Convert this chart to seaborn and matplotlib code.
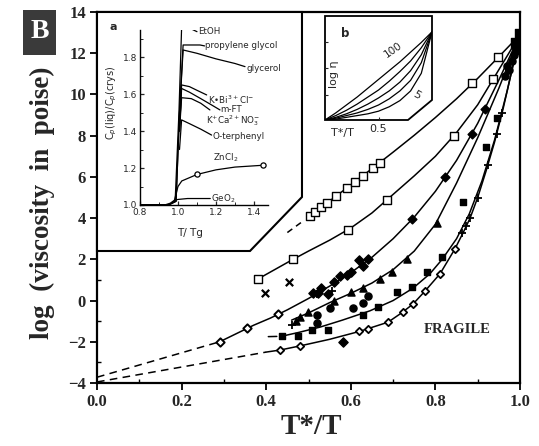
import matplotlib
matplotlib.use("Agg")
import matplotlib.pyplot as plt
import seaborn as sns
import pandas as pd
from matplotlib.patches import Polygon, Rectangle
from matplotlib.ticker import MultipleLocator

sns.set_theme(style="white")
plt.rcParams['font.family'] = ['Liberation Serif', 'DejaVu Serif']

# ---------------- main panel data ----------------
A_x = [0.50, 0.55, 0.60, 0.65, 0.70, 0.75, 0.80, 0.85, 0.90, 0.95, 1.00]
A_y = [4.05, 4.83, 5.61, 6.40, 7.20, 8.02, 8.88, 9.79, 10.78, 11.83, 12.9]
A_dash_x = [0.45, 0.49]
A_dash_y = [3.3, 3.9]
A_sq_x = [0.503, 0.515, 0.53, 0.543, 0.565, 0.59, 0.61, 0.629, 0.652, 0.669, 0.887, 0.948]
A_sq_y = [4.1, 4.28, 4.52, 4.72, 5.06, 5.45, 5.77, 6.06, 6.42, 6.69, 10.55, 11.8]

B_x = [0.38, 0.42, 0.46, 0.50, 0.55, 0.60, 0.65, 0.70, 0.75, 0.80, 0.85, 0.90, 0.95, 1.00]
B_y = [1.04, 1.5, 1.96, 2.4, 2.93, 3.52, 4.25, 5.15, 6.05, 7.0, 8.15, 9.5, 11.2, 12.9]
B_sq_x = [0.381, 0.463, 0.593, 0.686, 0.844, 0.936]
B_sq_y = [1.05, 2.0, 3.44, 4.9, 8.0, 10.75]
X_x = [0.397, 0.454]
X_y = [0.36, 0.89]

D_dash_x = [0.0, 0.29]
D_dash_y = [-3.72, -2.0]
D_x = [0.29, 0.33, 0.37, 0.41, 0.45, 0.50, 0.55, 0.60, 0.65, 0.70, 0.75, 0.80, 0.85, 0.90, 0.95, 1.00]
D_y = [-2.0, -1.6, -1.2, -0.85, -0.45, 0.1, 0.7, 1.35, 2.1, 3.0, 4.05, 5.3, 6.8, 8.6, 10.7, 12.9]
D_open_x = [0.29, 0.355, 0.428]
D_open_y = [-2.0, -1.35, -0.67]
D_fill_x = [0.745, 0.823, 0.887, 0.917]
D_fill_y = [3.95, 6.0, 8.1, 9.3]

T_x = [0.46, 0.50, 0.55, 0.60, 0.65, 0.70, 0.75, 0.80, 0.85, 0.90, 0.95, 1.00]
T_y = [-0.95, -0.6, -0.1, 0.35, 0.85, 1.5, 2.4, 3.7, 5.7, 7.9, 10.3, 12.9]
tri_x = [0.47, 0.48, 0.499, 0.56, 0.60, 0.63, 0.669, 0.697, 0.733, 0.804]
tri_y = [-1.0, -0.8, -0.55, 0.0, 0.4, 0.6, 1.05, 1.4, 2.0, 3.76]

E_dash_x = [0.405, 0.425]
E_dash_y = [-1.75, -1.74]
E_x = [0.437, 0.476, 0.527, 0.58, 0.645, 0.70, 0.747, 0.787, 0.816, 0.85, 0.88, 0.91, 0.94, 0.97, 1.00]
E_y = [-1.73, -1.55, -1.29, -0.95, -0.5, 0.0, 0.6, 1.3, 2.0, 3.0, 4.2, 5.8, 7.8, 10.2, 12.9]
sqf_x = [0.437, 0.476, 0.508, 0.546, 0.63, 0.665, 0.71, 0.745, 0.78, 0.816, 0.865, 0.92, 0.945]
sqf_y = [-1.73, -1.73, -1.44, -1.44, -0.7, -0.32, 0.4, 0.65, 1.4, 2.1, 4.8, 7.45, 8.85]

F_dash_x = [0.0, 0.40]
F_dash_y = [-3.95, -2.5]
F_x = [0.40, 0.433, 0.48, 0.55, 0.62, 0.688, 0.72, 0.747, 0.775, 0.811, 0.846, 0.865,
       0.882, 0.90, 0.92, 0.94, 0.96, 0.98, 1.00]
F_y = [-2.5, -2.4, -2.2, -1.88, -1.5, -1.05, -0.6, -0.17, 0.45, 1.3, 2.5, 3.27,
       4.0, 5.0, 6.3, 7.7, 9.3, 11.1, 12.9]
F_mk_x = [0.433, 0.48, 0.62, 0.641, 0.688, 0.723, 0.747, 0.775, 0.811, 0.846]
F_mk_y = [-2.4, -2.2, -1.5, -1.37, -1.05, -0.56, -0.17, 0.45, 1.3, 2.5]

circ_x = [0.52, 0.52, 0.55, 0.605, 0.629, 0.64, 0.965, 0.975, 0.98, 0.97, 0.985, 0.99]
circ_y = [-0.7, -1.1, -0.37, -0.37, -0.13, 0.2, 10.9, 11.2, 11.6, 11.4, 11.9, 12.2]
dia_x = [0.51, 0.522, 0.53, 0.545, 0.56, 0.575, 0.59, 0.60, 0.62, 0.63, 0.64, 0.582]
dia_y = [0.36, 0.35, 0.6, 0.3, 0.9, 1.2, 1.23, 1.4, 1.96, 1.7, 2.0, -2.0]
plus_x = [0.863, 0.872, 0.882, 0.90, 0.924, 0.945, 0.957, 0.46, 0.52, 0.555]
plus_y = [3.27, 3.6, 4.0, 5.0, 6.6, 8.1, 9.1, -1.2, 0.3, 0.45]
top_x = [1.0, 0.99, 0.995]
top_y = [12.95, 12.5, 12.2]

x_ticks = [0.0, 0.2, 0.4, 0.6, 0.8, 1.0]
x_tick_labels = ["0.0", "0.2", "0.4", "0.6", "0.8", "1.0"]
y_ticks = [-4, -2, 0, 2, 4, 6, 8, 10, 12, 14]

# ---------------- inset a data ----------------
a_EtOH_x = [0.80, 0.95, 0.985, 1.005, 1.019, 1.063, 1.10]
a_EtOH_y = [1.0, 1.0, 1.02, 1.5, 1.955, 1.955, 1.937]
a_pg_x = [0.80, 0.95, 0.99, 1.008, 1.027, 1.116, 1.14]
a_pg_y = [1.0, 1.0, 1.02, 1.5, 1.865, 1.865, 1.86]
a_gly_x = [0.80, 0.95, 0.99, 1.008, 1.027, 1.10, 1.20, 1.30, 1.353]
a_gly_y = [1.0, 1.0, 1.02, 1.5, 1.838, 1.82, 1.79, 1.765, 1.748]
a_KBi_x = [1.008, 1.019, 1.06, 1.10, 1.151]
a_KBi_y = [1.4, 1.649, 1.64, 1.62, 1.595]
a_mFT_x = [1.008, 1.019, 1.06, 1.12, 1.17, 1.221]
a_mFT_y = [1.4, 1.63, 1.61, 1.575, 1.545, 1.514]
a_KCa_x = [1.008, 1.019, 1.07, 1.12, 1.168]
a_KCa_y = [1.4, 1.58, 1.575, 1.55, 1.514]
a_OT_x = [1.008, 1.019, 1.06, 1.12, 1.177]
a_OT_y = [1.3, 1.46, 1.44, 1.41, 1.378]
a_Zn_x = [0.80, 0.95, 0.98, 1.0, 1.02, 1.10, 1.20, 1.30, 1.45]
a_Zn_y = [1.0, 1.0, 1.02, 1.10, 1.13, 1.165, 1.19, 1.205, 1.215]
a_Zn_mk_x = [1.10, 1.45]
a_Zn_mk_y = [1.165, 1.215]
a_Ge_x = [0.80, 0.93, 0.96, 0.98, 1.0, 1.05, 1.17]
a_Ge_y = [1.0, 1.0, 1.01, 1.025, 1.03, 1.035, 1.035]

# ---------------- inset b data ----------------
b_x = [0.0, 0.1, 0.2, 0.3, 0.4, 0.5, 0.6, 0.7, 0.8, 0.9, 1.0]
b_100 = [0.0, 0.08, 0.17, 0.26, 0.36, 0.46, 0.56, 0.66, 0.77, 0.88, 1.0]
b_50 = [0.0, 0.05, 0.11, 0.18, 0.26, 0.34, 0.44, 0.55, 0.67, 0.82, 1.0]
b_20 = [0.0, 0.03, 0.07, 0.12, 0.18, 0.25, 0.33, 0.43, 0.56, 0.74, 1.0]
b_10 = [0.0, 0.02, 0.05, 0.08, 0.12, 0.17, 0.24, 0.33, 0.45, 0.65, 1.0]
b_5 = [0.0, 0.01, 0.03, 0.05, 0.07, 0.10, 0.15, 0.22, 0.33, 0.53, 1.0]

W, H = 539, 446
fig = plt.figure(figsize=(W / 100, H / 100), dpi=100)
fig.patch.set_facecolor("white")


def fx(px):
    return px / W


def fy(py):
    return 1 - py / H


ax = fig.add_axes([fx(97), fy(383), (520 - 97) / W, (383 - 12) / H])
ax.set_facecolor("white")

LW = 1.1
def line(xs, ys, a=ax, ls="-", lw=LW):
    sns.lineplot(x=xs, y=ys, ax=a, color="black", lw=lw, sort=False,
                 estimator=None, linestyle=ls, legend=False)

def pts(xs, ys, marker, fc, s, a=ax, lw=1.0, z=3):
    sns.scatterplot(x=xs, y=ys, ax=a, marker=marker, s=s, facecolor=fc,
                    edgecolor="black", linewidth=lw, legend=False, zorder=z)

line(A_x, A_y); line(A_dash_x, A_dash_y, ls=(0, (4, 3)))
line(B_x, B_y)
line(D_x, D_y); line(D_dash_x, D_dash_y, ls=(0, (5, 3.5)))
line(T_x, T_y)
line(E_x, E_y); line(E_dash_x, E_dash_y)
line(F_x, F_y); line(F_dash_x, F_dash_y, ls=(0, (5, 3.5)))

pts(A_sq_x, A_sq_y, "s", "white", 26)
pts(B_sq_x, B_sq_y, "s", "white", 30)
sns.scatterplot(x=X_x, y=X_y, ax=ax, marker="x", s=28, color="black", linewidth=1.6, legend=False)
pts(D_open_x, D_open_y, "D", "white", 18, lw=1.4)
pts(D_fill_x, D_fill_y, "D", "black", 20)
pts(tri_x, tri_y, "^", "black", 26)
pts(sqf_x, sqf_y, "s", "black", 24)
pts(F_mk_x, F_mk_y, "D", "white", 14, lw=1.3)
pts(circ_x, circ_y, "o", "black", 26)
pts(dia_x, dia_y, "D", "black", 22)
sns.scatterplot(x=plus_x, y=plus_y, ax=ax, marker="+", s=30, color="black", linewidth=1.3, legend=False)
pts(top_x, top_y, "s", "black", 55)

ax.set_xlim(0, 1.0)
ax.set_ylim(-4, 14)
ax.set_xticks(x_ticks)
ax.set_xticklabels(x_tick_labels)
ax.set_yticks(y_ticks)
ax.xaxis.set_minor_locator(MultipleLocator(0.1))
ax.yaxis.set_minor_locator(MultipleLocator(1))
ax.tick_params(which="major", direction="out", length=5, width=1.3, color="black",
               labelsize=12, pad=3, bottom=True, left=True)
ax.tick_params(which="minor", direction="in", length=3, width=1.0, color="black",
               bottom=True, left=True)
for lab in ax.get_xticklabels() + ax.get_yticklabels():
    lab.set_fontweight("bold")
for sp in ax.spines.values():
    sp.set_color("black")
    sp.set_linewidth(1.6)
ax.set_xlabel("")
ax.set_ylabel("")
ax.text(0.851, -1.39, "FRAGILE", fontsize=10.5, fontweight="bold", ha="center", va="center")

# inset a frame (white region)
poly = Polygon([(0, 1), (0.4846, 1), (0.4846, 0.5013), (0.3617, 0.3558), (0, 0.3558)],
               closed=True, transform=ax.transAxes, facecolor="white",
               edgecolor="black", lw=1.5, zorder=6, clip_on=False)
ax.add_patch(poly)

# inset b frame
polyb = Polygon([(fx(325), fy(16)), (fx(432), fy(16)), (fx(432), fy(100)), (fx(408), fy(120)),
                 (fx(325), fy(120))], closed=True, transform=fig.transFigure,
                facecolor="white", edgecolor="black", lw=1.3, zorder=6)
ax.add_patch(polyb)

SANS = ['DejaVu Sans']
# ---------------- inset a ----------------
axa = fig.add_axes([fx(140), fy(205), (268 - 140) / W, (205 - 30) / H])
axa.patch.set_alpha(0)
ILW = 0.9
for xs, ys in [(a_EtOH_x, a_EtOH_y), (a_pg_x, a_pg_y), (a_gly_x, a_gly_y), (a_KBi_x, a_KBi_y),
               (a_mFT_x, a_mFT_y), (a_KCa_x, a_KCa_y), (a_OT_x, a_OT_y), (a_Zn_x, a_Zn_y),
               (a_Ge_x, a_Ge_y)]:
    line(xs, ys, a=axa, lw=ILW)
pts(a_Zn_mk_x, a_Zn_mk_y, "o", "white", 14, a=axa, lw=0.9)
axa.set_xlim(0.8, 1.474)
axa.set_ylim(1.0, 1.946)
axa.set_xticks([0.8, 1.0, 1.2, 1.4])
axa.set_xticklabels(["0.8", "1.0", "1.2", "1.4"])
axa.set_yticks([1.0, 1.2, 1.4, 1.6, 1.8])
axa.set_yticklabels(["1.0", "1.2", "1.4", "1.6", "1.8"])
axa.xaxis.set_minor_locator(MultipleLocator(0.1))
axa.yaxis.set_minor_locator(MultipleLocator(0.1))
axa.tick_params(which="major", direction="in", length=3, width=0.9, labelsize=6.5, pad=2,
                bottom=True, left=True)
axa.tick_params(which="minor", direction="in", length=2, width=0.7, bottom=True, left=True)
for lab in axa.get_xticklabels() + axa.get_yticklabels():
    lab.set_family(SANS)
axa.spines["top"].set_visible(False)
axa.spines["right"].set_visible(False)
for s in ["left", "bottom"]:
    axa.spines[s].set_linewidth(1.0)
    axa.spines[s].set_color("black")
axa.set_xlabel(""); axa.set_ylabel("")
fs_a = 6.3
for txt, x, y in [("EtOH", 1.105, 1.937), ("propylene glycol", 1.142, 1.86),
                  ("glycerol", 1.362, 1.739), ("K•Bi$^{3+}$Cl$^{-}$", 1.158, 1.568),
                  ("m-FT", 1.221, 1.516), ("K$^{+}$Ca$^{2+}$NO$_3^{-}$", 1.150, 1.459),
                  ("O-terphenyl", 1.184, 1.368), ("ZnCl$_2$", 1.184, 1.255),
                  ("GeO$_2$", 1.175, 1.035)]:
    axa.text(x, y, txt, fontsize=fs_a, family=SANS, ha="left", va="center", clip_on=False)
fig.text(fx(112), fy(103), "C$_p$(liq)/C$_p$(crys)", rotation=90, fontsize=7,
         family=SANS, ha="center", va="center")
fig.text(fx(190), fy(233), "T/ Tg", fontsize=7.5, family=SANS, ha="center", va="center")
fig.text(fx(113), fy(27), "a", fontsize=8, family=SANS, fontweight="bold",
         ha="center", va="center")

# ---------------- inset b ----------------
axb = fig.add_axes([fx(325), fy(120), 107 / W, 104 / H])
axb.patch.set_alpha(0)
for ys in [b_100, b_50, b_20, b_10, b_5]:
    line(b_x, ys, a=axb, lw=0.9)
axb.set_xlim(0, 1)
axb.set_ylim(0, 1.18)
for s in axb.spines.values():
    s.set_visible(False)
axb.set_xticks([0.5])
axb.set_xticklabels(["0.5"])
axb.set_yticks([0.284, 0.59, 0.886])
axb.set_yticklabels([])
axb.tick_params(direction="in", length=2.5, width=0.8, labelsize=8, pad=3, bottom=True, left=True)
for lab in axb.get_xticklabels():
    lab.set_family(SANS)
axb.set_xlabel(""); axb.set_ylabel("")
axb.text(0.635, 0.80, "100", fontsize=7.5, family=SANS, rotation=35, ha="center", va="center")
axb.text(0.86, 0.28, "5", fontsize=8, family=SANS, rotation=-30, ha="center", va="center")
axb.text(0.19, 0.98, "b", fontsize=8.5, family=SANS, fontweight="bold", ha="center", va="center")
axb.text(0.08, 0.52, "log η", fontsize=8, family=SANS, rotation=90, ha="center", va="center")
fig.text(fx(342), fy(133), "T*/T", fontsize=8, family=SANS, ha="center", va="center")

# ---------------- outer labels ----------------
fig.text(fx(42), fy(203), "log  (viscosity  in  poise)", rotation=90, fontsize=19.5,
         fontweight="bold", ha="center", va="center")
fig.text(fx(311), fy(427), "T*/T", fontsize=21, fontweight="bold", ha="center", va="center")
fig.patches.append(Rectangle((fx(23), fy(55)), 33 / W, 45 / H, transform=fig.transFigure,
                             facecolor="#3a3a3a", edgecolor="none"))
fig.text(fx(40), fy(32), "B", fontsize=20, fontweight="bold", color="white",
         ha="center", va="center")

fig.savefig("out.png", dpi=100, facecolor="white")
